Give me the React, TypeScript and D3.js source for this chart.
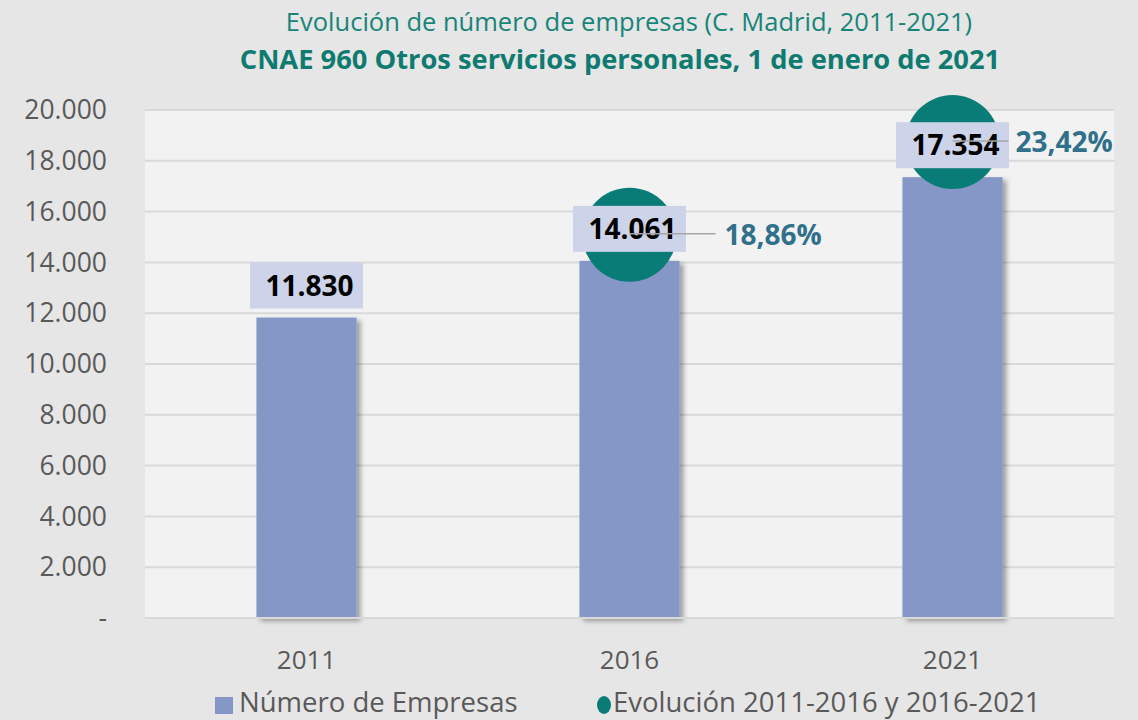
import React, { useEffect, useRef } from "react";
import * as d3 from "d3";

const years = ["2011", "2016", "2021"];
const empresas = [11830, 14061, 17354];
const evolucion = [null, 18.86, 23.42];
const yTicks = [0, 2000, 4000, 6000, 8000, 10000, 12000, 14000, 16000, 18000, 20000];

const FONT = "'Open Sans', sans-serif";

export default function App() {
  const ref = useRef<SVGSVGElement>(null);

  useEffect(() => {
    const svg = d3.select(ref.current);
    svg.selectAll("*").remove();

    const W = 1138, H = 720;
    const left = 145, right = 1114, top = 110, bottom = 618;

    svg.attr("width", W).attr("height", H);

    const defs = svg.append("defs");
    const f = defs.append("filter").attr("id", "shadow")
      .attr("x", "-20%").attr("y", "-10%").attr("width", "140%").attr("height", "120%");
    f.append("feDropShadow").attr("dx", 4).attr("dy", 3).attr("stdDeviation", 2.5)
      .attr("flood-color", "#000").attr("flood-opacity", 0.35);

    svg.append("rect").attr("width", W).attr("height", H).attr("fill", "#e6e6e6");
    svg.append("rect")
      .attr("x", left).attr("y", top)
      .attr("width", right - left).attr("height", bottom - top)
      .attr("fill", "#f2f2f2");

    const x = d3.scaleBand()
      .domain(years)
      .range([left, right])
      .paddingInner(0.69)
      .paddingOuter(0.345);

    const y = d3.scaleLinear().domain([0, 20000]).range([bottom, top]);
    const y2 = d3.scaleLinear().domain([0, 25]).range([bottom, top]);

    // grid
    svg.append("g").selectAll("line")
      .data(yTicks.filter((t) => t > 0))
      .enter().append("line")
      .attr("x1", left).attr("x2", right)
      .attr("y1", (d) => y(d)).attr("y2", (d) => y(d))
      .attr("stroke", "#d9d9d9").attr("stroke-width", 2);

    // y labels
    svg.append("g").selectAll("text")
      .data(yTicks)
      .enter().append("text")
      .attr("x", 107)
      .attr("y", (d) => y(d))
      .attr("dy", "0.35em")
      .attr("text-anchor", "end")
      .attr("font-family", FONT)
      .attr("font-size", 26.5)
      .attr("fill", "#595959")
      .text((d) => (d === 0 ? "-" : d3.format(",")(d).replace(/,/g, ".")));

    // bars
    svg.append("g").selectAll("rect")
      .data(empresas)
      .enter().append("rect")
      .attr("x", (d, i) => x(years[i]))
      .attr("y", (d) => y(d))
      .attr("width", x.bandwidth())
      .attr("height", (d) => bottom - y(d))
      .attr("fill", "#8497c6")
      .attr("filter", "url(#shadow)");

    // baseline
    svg.append("line")
      .attr("x1", left).attr("x2", right)
      .attr("y1", bottom).attr("y2", bottom)
      .attr("stroke", "#d9d9d9").attr("stroke-width", 2);

    // x labels
    svg.append("g").selectAll("text")
      .data(years)
      .enter().append("text")
      .attr("x", (d) => x(d) + x.bandwidth() / 2)
      .attr("y", 669)
      .attr("text-anchor", "middle")
      .attr("font-family", FONT)
      .attr("font-size", 26)
      .attr("fill", "#595959")
      .text((d) => d);

    const evo = evolucion
      .map((v, i) => ({ v, year: years[i] }))
      .filter((d) => d.v != null) as { v: number; year: string }[];

    // circles
    svg.append("g").selectAll("circle")
      .data(evo)
      .enter().append("circle")
      .attr("cx", (d) => x(d.year) + x.bandwidth() / 2)
      .attr("cy", (d) => y2(d.v))
      .attr("r", 47)
      .attr("fill", "#0a7c78");

    // value labels
    const cx = (i: number) => x(years[i]) + x.bandwidth() / 2;
    const vl = svg.append("g").selectAll("g")
      .data(empresas)
      .enter().append("g");
    vl.append("rect")
      .attr("x", (d, i) => cx(i) - 56.5)
      .attr("y", (d) => y(d) - 55)
      .attr("width", 113)
      .attr("height", 46)
      .attr("fill", "#cdd3e8");
    vl.append("text")
      .attr("x", (d, i) => cx(i) + 3)
      .attr("y", (d) => y(d) - 32)
      .attr("dy", "0.36em")
      .attr("text-anchor", "middle")
      .attr("font-family", FONT)
      .attr("font-weight", "bold")
      .attr("font-size", 28)
      .attr("fill", "#000")
      .text((d) => d3.format(",")(d).replace(/,/g, "."));

    // leader lines + pct labels
    const pl = svg.append("g").selectAll("g")
      .data(evo)
      .enter().append("g");
    pl.append("line")
      .attr("x1", (d) => x(d.year) + x.bandwidth() / 2)
      .attr("x2", (d) => x(d.year) + x.bandwidth() / 2 + (d.year === "2016" ? 86 : 56))
      .attr("y1", (d) => y2(d.v) - 1)
      .attr("y2", (d) => y2(d.v) - 1)
      .attr("stroke", "#a6a6a6")
      .attr("stroke-width", 1.5);
    pl.append("text")
      .attr("x", (d) => x(d.year) + x.bandwidth() / 2 + (d.year === "2016" ? 95 : 63))
      .attr("y", (d) => y2(d.v))
      .attr("dy", "0.36em")
      .attr("font-family", FONT)
      .attr("font-weight", "bold")
      .attr("font-size", 28)
      .attr("fill", "#31708a")
      .text((d) => d3.format(".2f")(d.v).replace(".", ",") + "%");

    // title
    svg.append("text")
      .attr("x", 629).attr("y", 31)
      .attr("text-anchor", "middle")
      .attr("font-family", FONT)
      .attr("font-size", 25.5)
      .attr("fill", "#178479")
      .text("Evolución de número de empresas (C. Madrid, 2011-2021)");
    svg.append("text")
      .attr("x", 620).attr("y", 69)
      .attr("text-anchor", "middle")
      .attr("font-family", FONT)
      .attr("font-weight", "bold")
      .attr("font-size", 27.3)
      .attr("fill", "#0f7a70")
      .text("CNAE 960 Otros servicios personales, 1 de enero de 2021");

    // legend
    const lg = svg.append("g");
    lg.append("rect").attr("x", 215).attr("y", 697).attr("width", 18).attr("height", 17).attr("fill", "#8497c6");
    lg.append("text").attr("x", 239).attr("y", 712)
      .attr("font-family", FONT).attr("font-size", 27.5).attr("fill", "#595959")
      .text("Número de Empresas");
    lg.append("ellipse").attr("cx", 604).attr("cy", 705).attr("rx", 7).attr("ry", 9).attr("fill", "#0a7c78");
    lg.append("text").attr("x", 613).attr("y", 712)
      .attr("font-family", FONT).attr("font-size", 27.5).attr("fill", "#595959")
      .text("Evolución 2011-2016 y 2016-2021");
  }, []);

  return <svg ref={ref} style={{ position: "absolute", left: 0, top: 0 }}></svg>;
}
